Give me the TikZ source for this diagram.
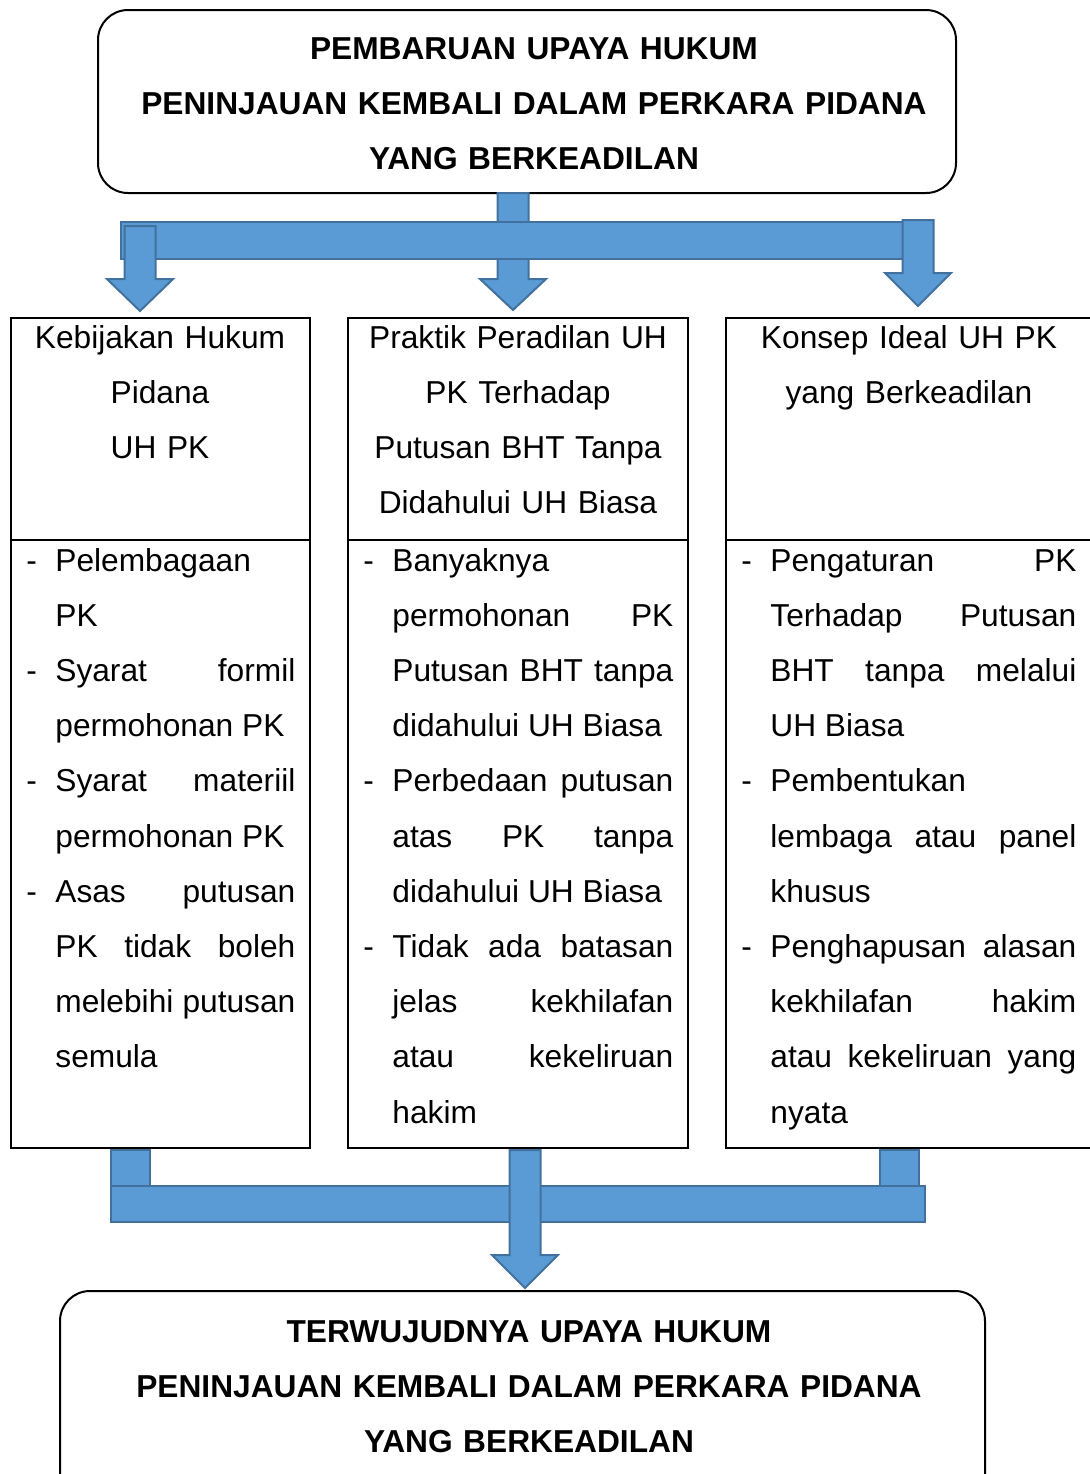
\documentclass[tikz,border=0pt]{standalone}
\usepackage{fontspec}
\setmainfont{Liberation Sans}
\definecolor{blockfill}{RGB}{91,155,213}
\definecolor{blockline}{RGB}{65,113,156}
\tolerance=10000
\hyphenpenalty=10000
\tikzset{
  blkshape/.style={fill=blockfill,draw=blockline,line width=1pt},
  boxline/.style={draw=black,line width=1pt},
  hdtext/.style={text width=#1,align=center,anchor=base,inner sep=0pt,font=\fontsize{15.85}{27.6}\selectfont},
  titletext/.style={hdtext=420pt,font=\fontsize{15.85}{27.6}\selectfont\bfseries},
  bodytext/.style={text width=#1,align=justify,anchor=base west,inner sep=0pt,font=\fontsize{15.85}{27.6}\selectfont}
}
\newcommand{\pitem}[1]{\noindent\hangindent=14.5pt\hangafter=1\makebox[14.5pt][l]{-}#1\par}
% block arrow pointing down: x, stem top, head top, tip
\newcommand{\blkdown}[4]{%
  \draw[blkshape] (#1-15.5,#2) -- (#1+15.5,#2) -- (#1+15.5,#3) -- (#1+33,#3)
    -- (#1,#4) -- (#1-33,#3) -- (#1-15.5,#3) -- cycle;}

\begin{document}
\begin{tikzpicture}[x=0.5pt,y=-0.5pt]
\useasboundingbox (0,0) rectangle (1090,1474);
% boxes
\draw[boxline,rounded corners=15pt] (98,10) rectangle (956,193);
\draw[boxline] (11,318) rectangle (310,1148);
\draw[boxline] (11,540) -- (310,540);
\draw[boxline] (348,318) rectangle (688,1148);
\draw[boxline] (348,540) -- (688,540);
\draw[boxline] (726,318) rectangle (1091,1148);
\draw[boxline] (726,540) -- (1091,540);
\draw[boxline,rounded corners=15pt] (60,1291) rectangle (985,1540);
% texts
\node[titletext] (judul) at (534,59) {PEMBARUAN UPAYA HUKUM\\PENINJAUAN KEMBALI DALAM PERKARA PIDANA\\YANG BERKEADILAN};
\node[hdtext=149pt] (h1) at (160,348) {Kebijakan Hukum\\Pidana\\UH PK};
\node[hdtext=170pt] (h2) at (518,348) {Praktik Peradilan UH\\PK Terhadap\\Putusan BHT Tanpa\\Didahului UH Biasa};
\node[hdtext=180pt] (h3) at (909,348) {Konsep Ideal UH PK\\yang Berkeadilan};
\node[bodytext=134.5pt] (b1) at (26,571) {%
  \pitem{Pelembagaan\newline PK}
  \pitem{Syarat formil\linebreak permohonan PK}
  \pitem{Syarat materiil\linebreak permohonan PK}
  \pitem{Asas putusan\linebreak PK tidak boleh\linebreak melebihi putusan\linebreak semula}};
\node[bodytext=155pt] (b2) at (363,571) {%
  \pitem{Banyaknya\newline permohonan PK\linebreak Putusan BHT tanpa\linebreak didahului UH Biasa}
  \pitem{Perbedaan putusan\linebreak atas PK tanpa\linebreak didahului UH Biasa}
  \pitem{Tidak ada batasan\linebreak jelas kekhilafan\linebreak atau kekeliruan\linebreak hakim}};
\node[bodytext=167.5pt] (b3) at (741,571) {%
  \pitem{Pengaturan PK\linebreak Terhadap Putusan\linebreak BHT tanpa melalui\linebreak UH Biasa}
  \pitem{Pembentukan\newline lembaga atau panel\linebreak khusus}
  \pitem{Penghapusan alasan\linebreak kekhilafan hakim\linebreak atau kekeliruan yang\linebreak nyata}};
\node[titletext] (hasil) at (529,1342) {TERWUJUDNYA UPAYA HUKUM\\PENINJAUAN KEMBALI DALAM PERKARA PIDANA\\YANG BERKEADILAN};
% top arrows
\blkdown{513}{193}{279}{310}
\draw[blkshape] (121,222) rectangle (933,259);
\blkdown{140}{226}{279}{311}
\blkdown{918}{220}{273}{306}
% bottom arrows
\draw[blkshape] (111,1150) rectangle (150,1186);
\draw[blkshape] (880,1150) rectangle (919,1186);
\draw[blkshape] (111,1186) rectangle (925,1222);
\blkdown{525}{1150}{1255}{1288}
\end{tikzpicture}
\end{document}
